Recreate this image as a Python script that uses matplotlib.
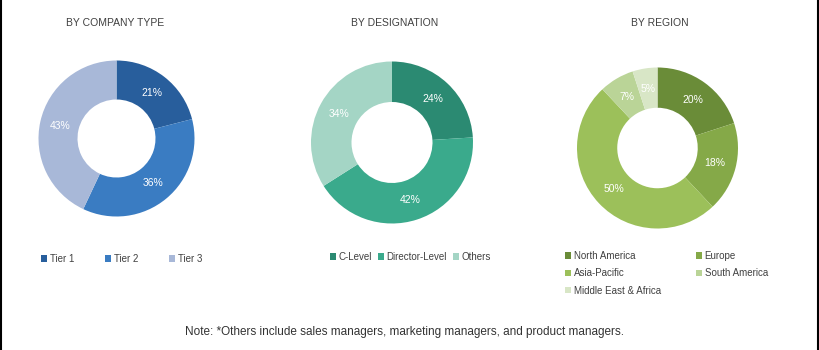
import matplotlib
matplotlib.use("Agg")
import matplotlib.pyplot as plt
from matplotlib.patches import Patch

plt.rcParams['font.family'] = ['Liberation Sans', 'DejaVu Sans']

W, H = 820, 350

# breakdown of primary interviews
company_types = ['Tier 1', 'Tier 2', 'Tier 3']
company_share = [21, 36, 43]
company_colors = ['#285e9c', '#3a7cc2', '#a8b8d8']

designations = ['C-Level', 'Director-Level', 'Others']
designation_share = [24, 42, 34]
designation_colors = ['#2b8a72', '#3aaa8c', '#a4d5c5']

regions = ['North America', 'Europe', 'Asia-Pacific', 'South America', 'Middle East & Africa']
region_share = [20, 18, 50, 7, 5]
region_colors = ['#6a8c38', '#85a948', '#9cc05a', '#bad497', '#d8e6c6']

fig = plt.figure(figsize=(W / 100, H / 100), dpi=100)
fig.patch.set_facecolor('white')


def px_axes(cx, cy, r):
    return fig.add_axes([(cx - r) / W, 1 - (cy + r) / H, 2 * r / W, 2 * r / H])


def donut(cx, cy, r, values, colors, title, tx, ty):
    ax = px_axes(cx, cy, r)
    ax.pie(values, colors=colors, startangle=90, counterclock=False, radius=1,
           wedgeprops=dict(width=0.5, edgecolor='none'),
           autopct='%d%%', pctdistance=0.74,
           textprops=dict(color='white', fontsize=7.5))
    ax.set_xlim(-1, 1)
    ax.set_ylim(-1, 1)
    ax.set_aspect('equal')
    ax.axis('off')
    fig.text(tx / W, 1 - ty / H, title, ha='center', va='center',
             fontsize=7.5, color='#404040')
    return ax


donut(116.5, 138.5, 78, company_share, company_colors, 'BY COMPANY TYPE', 115, 23)
donut(392, 142.5, 81, designation_share, designation_colors, 'BY DESIGNATION', 395, 23)
donut(657.5, 148, 80.5, region_share, region_colors, 'BY REGION', 660, 23)


def legend(labels, colors, x, y, ncol, colspace, rowspace=0.55):
    handles = [Patch(facecolor=c, edgecolor='none') for c in colors]
    # legend fills column by column; reorder so entries read across rows
    rows = -(-len(labels) // ncol)
    order = [r * ncol + c for c in range(ncol) for r in range(rows) if r * ncol + c < len(labels)]
    fig.legend([handles[i] for i in order], [labels[i] for i in order],
               loc='upper left', bbox_to_anchor=(x / W, 1 - y / H),
               ncol=ncol, frameon=False, fontsize=7, handlelength=0.6, handleheight=0.6,
               handletextpad=0.3, columnspacing=colspace, labelspacing=rowspace,
               borderpad=0, borderaxespad=0, labelcolor='#404040')


legend(company_types, company_colors, 41, 254, 3, 3.2)
legend(designations, designation_colors, 330, 252, 3, 0.6)
legend(regions, region_colors, 565, 251, 2, 3.6, 0.75)

fig.text(405 / W, 1 - 332 / H,
         'Note: *Others include sales managers, marketing managers, and product managers.',
         ha='center', va='center', fontsize=8.5, color='#333333')

# frame lines on the sides
fig.add_artist(plt.Line2D([0.6 / W, 0.6 / W], [0, 1], color='black', lw=1.5))
fig.add_artist(plt.Line2D([1 - 1.5 / W, 1 - 1.5 / W], [0, 1], color='black', lw=1.5))

fig.savefig('out.png', dpi=100, facecolor='white')
